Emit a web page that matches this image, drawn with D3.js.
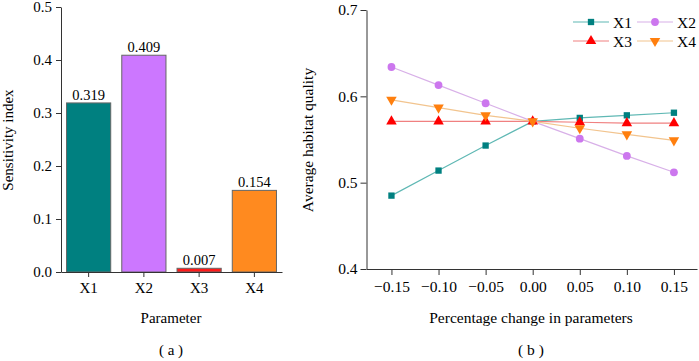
<!DOCTYPE html>
<html><head><meta charset="utf-8">
<script src="https://cdn.jsdelivr.net/npm/d3@7"></script>
<style>body{margin:0;background:#fff}svg{display:block}text{font-family:"Liberation Serif","Times New Roman",serif}</style>
</head><body><svg id="c" width="699" height="361"></svg>
<script>
const params = ["X1","X2","X3","X4"];
const sensitivity = [0.319, 0.409, 0.007, 0.154];
const barColors = ["#008080","#cc77ff","#ff1a1a","#ff8a1f"];
const leftTicks = [0.0,0.1,0.2,0.3,0.4,0.5];

const changes = [-0.15,-0.10,-0.05,0.00,0.05,0.10,0.15];
const seriesX1 = [0.485,0.514,0.543,0.571,0.575,0.578,0.581];
const seriesX2 = [0.634,0.613,0.592,0.571,0.551,0.531,0.512];
const seriesX3 = [0.571,0.571,0.571,0.571,0.570,0.569,0.569];
const seriesX4 = [0.596,0.587,0.578,0.571,0.563,0.556,0.549];
const rightTicks = [0.4,0.5,0.6,0.7];

const svg = d3.select("#c");
const FS = 15;
const FSR = 15.5;

// ---- Left chart ----
const gL = svg.append("g");
const xL = d3.scaleBand().domain(params).range([61,282]).paddingInner(0.2).paddingOuter(0.1);
const yL = d3.scaleLinear().domain([0,0.5]).range([272,7]);
gL.append("g").attr("transform","translate(61,0)")
  .call(d3.axisLeft(yL).tickValues(leftTicks).tickFormat(d3.format(".1f")).tickSize(5).tickSizeOuter(0))
  .call(g=>{g.selectAll("text").attr("font-size",FS).attr("fill","#000").attr("dx","-1");g.selectAll("line,path").attr("stroke","#333");g.attr("font-family",null);});
gL.selectAll("rect.bar").data(params).join("rect").attr("class","bar")
  .attr("x",d=>xL(d)).attr("width",xL.bandwidth())
  .attr("y",(d,i)=>yL(sensitivity[i])).attr("height",(d,i)=>yL(0)-yL(sensitivity[i]))
  .attr("fill",(d,i)=>barColors[i]).attr("stroke","#666").attr("stroke-width",1);
gL.append("g").attr("transform","translate(0,272)")
  .call(d3.axisBottom(xL).tickSize(5).tickSizeOuter(0).tickPadding(5))
  .call(g=>{g.selectAll("text").attr("font-size",FS).attr("fill","#000");g.selectAll("line,path").attr("stroke","#333");g.attr("font-family",null);});
gL.selectAll("text.val").data(params).join("text").attr("class","val")
  .attr("x",d=>xL(d)+xL.bandwidth()/2).attr("y",(d,i)=>yL(sensitivity[i])-3)
  .attr("text-anchor","middle").attr("font-size",14.5).text((d,i)=>d3.format(".3f")(sensitivity[i]));
gL.append("text").attr("transform","translate(13,140) rotate(-90)").attr("text-anchor","middle").attr("font-size",FS).text("Sensitivity index");
gL.append("text").attr("x",171).attr("y",323).attr("text-anchor","middle").attr("font-size",FS).text("Parameter");
gL.append("text").attr("x",171).attr("y",355).attr("text-anchor","middle").attr("font-size",FS).text("( a )");

// ---- Right chart ----
const gR = svg.append("g");
const xR = d3.scaleLinear().domain([-0.1765,0.1745]).range([366.5,697]);
const yR = d3.scaleLinear().domain([0.4,0.7]).range([269,10]);
gR.append("g").attr("transform","translate(366.5,0)")
  .call(d3.axisLeft(yR).tickValues(rightTicks).tickFormat(d3.format(".1f")).tickSize(6).tickSizeOuter(0))
  .call(g=>{g.selectAll("text").attr("font-size",FSR).attr("fill","#000");g.selectAll("line,path").attr("stroke","#333");g.attr("font-family",null);});
gR.append("g").attr("transform","translate(0,269)")
  .call(d3.axisBottom(xR).tickValues(changes).tickFormat(d3.format(".2f")).tickSize(6).tickSizeOuter(0).tickPadding(6))
  .call(g=>{g.selectAll("text").attr("font-size",FSR).attr("fill","#000");g.selectAll("line,path").attr("stroke","#333");g.attr("font-family",null);});

const series = [
  {name:"X1", vals:seriesX1, color:"#008080", line:"#5fb8b4", sym:d3.symbolSquare, size:40, rot:0},
  {name:"X2", vals:seriesX2, color:"#cc77ee", line:"#d8b0e8", sym:d3.symbolCircle, size:48, rot:0},
  {name:"X3", vals:seriesX3, color:"#ff0000", line:"#f08080", sym:d3.symbolTriangle, size:48, rot:0},
  {name:"X4", vals:seriesX4, color:"#ff7f0e", line:"#f2c48e", sym:d3.symbolTriangle, size:48, rot:180}
];
const line = d3.line().x((d,i)=>xR(changes[i])).y(d=>yR(d));
series.forEach(s=>{
  gR.append("path").attr("d",line(s.vals)).attr("fill","none").attr("stroke",s.line).attr("stroke-width",1.2);
});
series.forEach(s=>{
  gR.selectAll(null).data(s.vals).join("path")
    .attr("transform",(d,i)=>`translate(${xR(changes[i])},${yR(d)}) rotate(${s.rot})`)
    .attr("d",d3.symbol().type(s.sym).size(s.size)).attr("fill",s.color);
});
// legend
const legPos = [[573,22],[637,22],[573,41],[637,41]];
series.forEach((s,i)=>{
  const [lx,ly] = legPos[i];
  const g = gR.append("g").attr("transform",`translate(${lx},${ly})`);
  g.append("line").attr("x1",0).attr("x2",36).attr("y1",0).attr("y2",0).attr("stroke",s.line).attr("stroke-width",1.2);
  g.append("path").attr("transform",`translate(18,0) rotate(${s.rot})`).attr("d",d3.symbol().type(s.sym).size(s.size)).attr("fill",s.color);
  g.append("text").attr("x",40).attr("y",5.5).attr("font-size",FSR).text(s.name);
});
gR.append("text").attr("transform","translate(313,140) rotate(-90)").attr("text-anchor","middle").attr("font-size",FSR).text("Average habitat quality");
gR.append("text").attr("x",531).attr("y",323).attr("text-anchor","middle").attr("font-size",FSR).text("Percentage change in parameters");
gR.append("text").attr("x",531).attr("y",355).attr("text-anchor","middle").attr("font-size",FSR).text("( b )");
</script></body></html>
